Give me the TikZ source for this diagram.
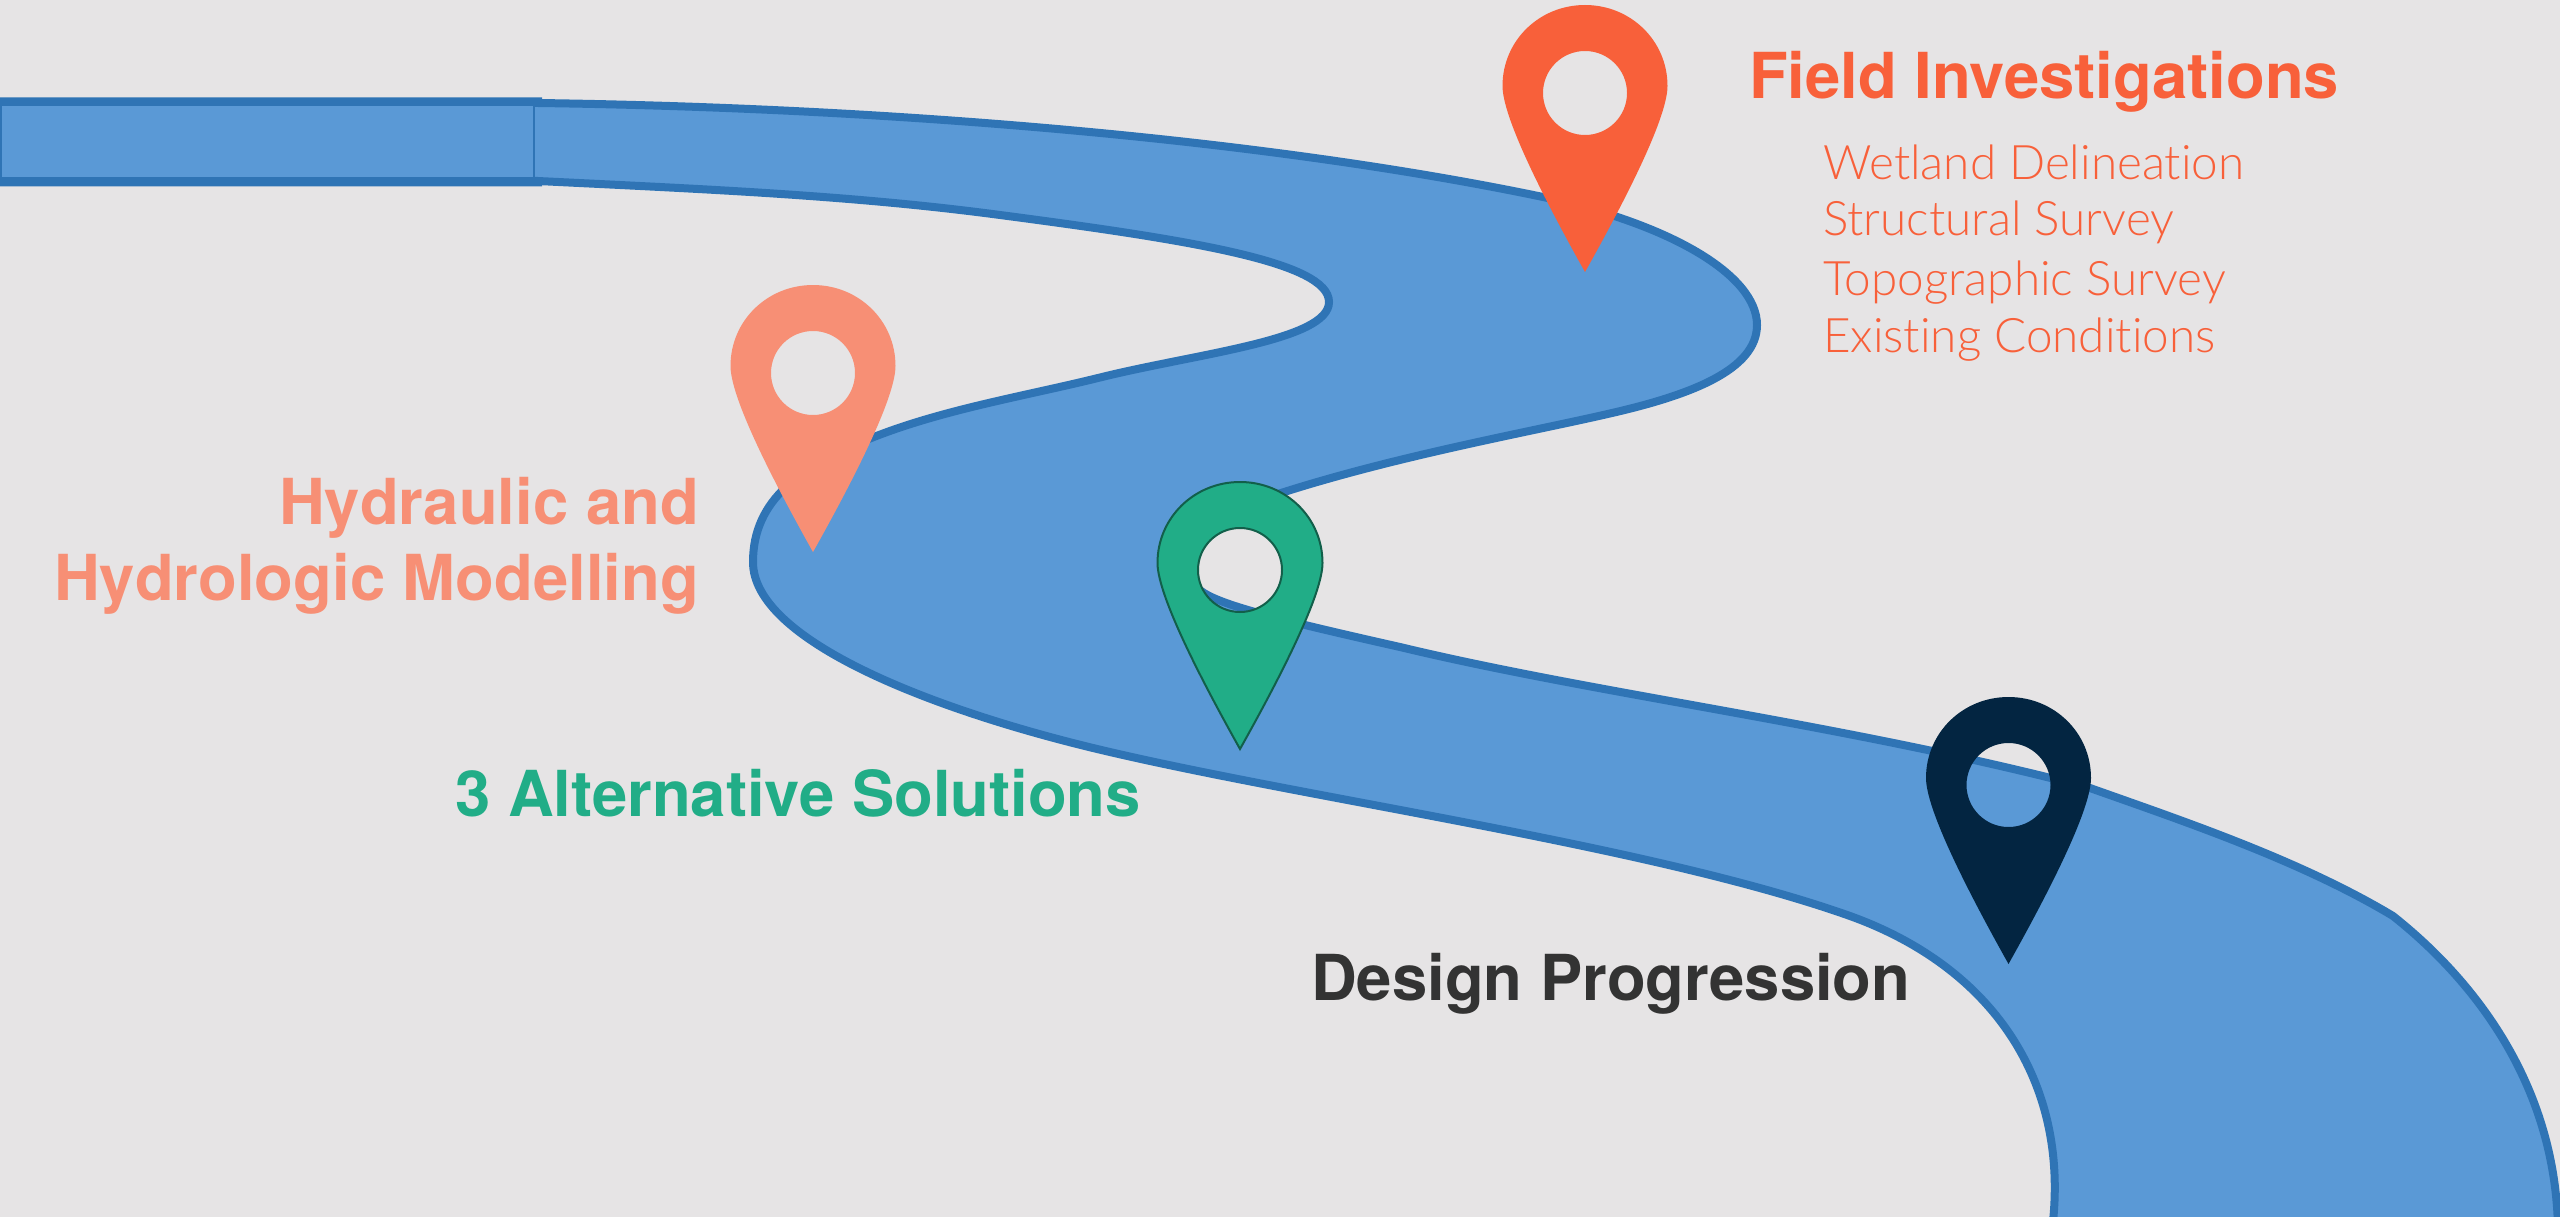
\documentclass[tikz,border=0pt]{standalone}
\usepackage{fontspec}
\setmainfont{TeX Gyre Heros}
\newfontfamily\boldf{TeX Gyre Heros}
\newfontfamily\lightf[Ligatures=NoCommon]{Lato Light}
\definecolor{bgc}{HTML}{E6E4E5}
\definecolor{riverfill}{HTML}{5A99D6}
\definecolor{riveredge}{HTML}{2F74B5}
\definecolor{cfield}{HTML}{F8603A}
\definecolor{chyd}{HTML}{F78F75}
\definecolor{calt}{HTML}{21AD87}
\definecolor{cdes}{HTML}{032541}
\definecolor{ctext}{HTML}{333333}
\tikzset{
  x=1pt,y=-1pt,
  heading/.style={inner sep=0pt,font=\fontsize{63.4}{64}\selectfont\boldf\bfseries},
  sublist/.style={inner sep=0pt,anchor=base west,text=cfield,font=\fontsize{47.6}{48}\selectfont\lightf},
  riverline/.style={draw=riveredge,line width=8pt,fill=riverfill},
  hole/.style={even odd rule}
}
\newcommand{\pinpath}{%
  (0,0) .. controls (28,-50) and (82.5,-150) .. (82.5,-186)
  .. controls (82.5,-231.5) and (45.5,-267) .. (0,-267)
  .. controls (-45.5,-267) and (-82.5,-231.5) .. (-82.5,-186)
  .. controls (-82.5,-150) and (-28,-50) .. (0,0) -- cycle
  (0,-179) circle[radius=42]}
\begin{document}
\begin{tikzpicture}
\useasboundingbox (0,0) rectangle (2560,1217);
\fill[bgc] (0,0) rectangle (2560,1217);
% river
\path[riverline] (-10,101.5) -- (538,101.5) -- (538,103)
  .. controls (900,108) and (1270,140) .. (1543,197)
  .. controls (1670,224) and (1757,275) .. (1757,325)
  .. controls (1757,370) and (1690,395) .. (1612,413)
  .. controls (1530,432) and (1400,455) .. (1281,493)
  .. controls (1200,518) and (1160,565) .. (1204,593)
  .. controls (1225,606) and (1280,620) .. (1400,647)
  .. controls (1600,695) and (1850,725) .. (2090,788)
  .. controls (2180,820) and (2300,860) .. (2393,916)
  .. controls (2480,985) and (2556,1090) .. (2558,1230)
  -- (2052,1230)
  .. controls (2070,1090) and (2000,970) .. (1850,916)
  .. controls (1650,845) and (1300,798) .. (1093,748)
  .. controls (930,708.5) and (753,640) .. (753,562)
  .. controls (753,500) and (800,465) .. (879,435)
  .. controls (950,408) and (1030,395) .. (1102,377)
  .. controls (1200,353) and (1329,340) .. (1329,302)
  .. controls (1329,262) and (1190,240) .. (1000,215)
  .. controls (850,195) and (700,189) .. (538,181)
  -- (538,182.5) -- (-10,182.5) -- cycle;
\draw[riveredge,line width=1.5pt] (1,105) rectangle (534,178);
% pins
\fill[cfield,hole,shift={(1585,272)}] \pinpath;
\fill[chyd,hole,shift={(813,552)}] \pinpath;
\filldraw[fill=calt,draw=calt!55!black,line width=2pt,hole,shift={(1240,749)}] \pinpath;
\fill[cdes,hole,shift={(2008.5,964)}] \pinpath;
% text
\node[heading,anchor=base west,text=cfield] (field) at (1749,98.5) {Field Investigations};
\node[sublist] (s1) at (1823,180) {Wetland Delineation};
\node[sublist] (s2) at (1823,236) {Structural Survey};
\node[sublist] (s3) at (1823,295) {Topographic Survey};
\node[sublist] (s4) at (1823,352) {Existing Conditions};
\node[heading,anchor=base east,text=chyd] (h1) at (699,524) {Hydraulic and};
\node[heading,anchor=base east,text=chyd] (h2) at (699,600) {Hydrologic Modelling};
\node[heading,anchor=base west,text=calt] (alt) at (455,816.5) {3 Alternative Solutions};
\node[heading,anchor=base west,text=ctext] (des) at (1311,1000) {Design Progression};
\end{tikzpicture}
\end{document}
